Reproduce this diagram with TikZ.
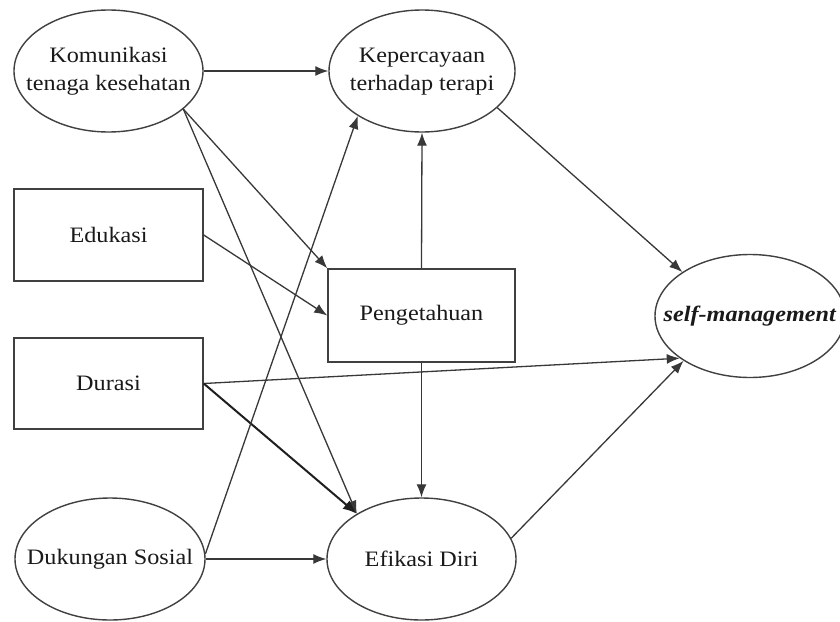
\documentclass[tikz,border=0pt]{standalone}
\usepackage{fontspec}
\setmainfont[FakeStretch=1.1]{Liberation Serif}
\usetikzlibrary{shapes.geometric,arrows.meta}
\begin{document}
\begin{tikzpicture}[x=1pt,y=-1pt,
  every node/.style={font=\fontsize{22}{28}\selectfont, text=black!90},
  ellnode/.style={draw=black!75, line width=1.4pt, ellipse, inner sep=0pt, minimum height=122pt},
  boxnode/.style={draw=black!75, line width=1.4pt, rectangle, inner sep=0pt},
  conn/.style={draw=black!78, line width=1.3pt, -{Latex[length=13pt,width=10pt]}},
  thickconn/.style={draw=black!88, line width=2pt, -{Latex[length=14pt,width=11pt]}}
]
\useasboundingbox (0,0) rectangle (840,621);
\fill[white] (0,0) rectangle (840,621);

\node[ellnode, minimum width=189pt] (kom) at (108.5,71)
  {\makebox[0pt]{\begin{tabular}{@{}c@{}}Komunikasi\\tenaga kesehatan\end{tabular}}};
\node[ellnode, minimum width=186pt] (kep) at (422,71)
  {\makebox[0pt]{\begin{tabular}{@{}c@{}}Kepercayaan\\terhadap terapi\end{tabular}}};
\node[boxnode, minimum width=189pt, minimum height=92pt] (edu) at (108.5,235) {Edukasi};
\node[boxnode, minimum width=189pt, minimum height=91pt] (dur) at (108.5,383.5) {Durasi};
\node[boxnode, minimum width=187pt, minimum height=93pt] (pen) at (421.5,315.5) {Pengetahuan};
\node[ellnode, minimum width=190pt, minimum height=123pt] (self) at (750,316)
  {\makebox[0pt]{\textbf{\textit{self-management}}}};
\node[ellnode, minimum width=190pt] (duk) at (110,559) {\makebox[0pt]{Dukungan Sosial}};
\node[ellnode, minimum width=189pt] (efi) at (421.5,559) {\makebox[0pt]{Efikasi Diri}};

\draw[conn] (kom.east) -- (kep.west);
\draw[conn] (kom.-27) -- (pen.north west);
\draw[conn] (kom.-27) -- (efi.145);
\draw[conn] (edu.east) -- (pen.west);
\draw[conn] (dur.east) -- (self.211);
\draw[thickconn] (dur.east) -- (efi.145);
\draw[conn] (duk.3) -- (kep.215);
\draw[conn] (duk.east) -- (efi.west);
\draw[conn] (pen.north) -- (kep.south);
\draw[conn] (pen.south) -- (efi.north);
\draw[conn] (kep.-26) -- (self.147);
\draw[conn] (efi.13) -- (self.214);
\end{tikzpicture}
\end{document}
